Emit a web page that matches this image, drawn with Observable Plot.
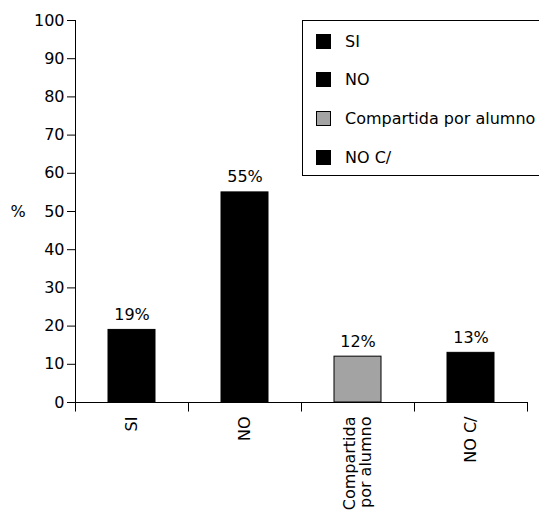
<!DOCTYPE html>
<html><head><meta charset="utf-8">
<script src="https://cdn.jsdelivr.net/npm/d3@7"></script>
<script src="https://cdn.jsdelivr.net/npm/@observablehq/plot@0.6"></script>
<style>
html,body{margin:0;padding:0;background:#fff;overflow:hidden;}
#wrap{position:relative;width:539px;height:515px;font-family:"DejaVu Sans",Arial,sans-serif;}
#legend{position:absolute;left:302px;top:20px;width:250px;height:156px;border:1px solid #000;box-sizing:border-box;background:#fff;}
.item{position:absolute;left:13px;height:18px;display:flex;align-items:center;font-size:16px;color:#000;}
.sw{width:15px;height:15px;margin-right:14px;}
</style>
</head><body>
<div id="wrap"></div>
<script>
const categories = ["SI", "NO", "Compartida por alumno", "NO C/"];
const tickLabels = ["SI", "NO", "Compartida\npor alumno", "NO C/"];
const values = [19, 55, 12, 13];
const colors = ["#000000", "#000000", "#a3a3a3", "#000000"];
const yTicks = [0, 10, 20, 30, 40, 50, 60, 70, 80, 90, 100];

const data = categories.map((c, i) => ({cat: c, value: values[i], label: values[i] + "%", color: colors[i]}));
const lastCat = [categories[categories.length - 1]];

const chart = Plot.plot({
  width: 539,
  height: 515,
  marginLeft: 75,
  marginRight: 12,
  marginTop: 20,
  marginBottom: 113,
  style: {fontFamily: "DejaVu Sans, Arial, sans-serif", fontSize: "16px", background: "#fff"},
  x: {domain: categories, paddingInner: 0.585, paddingOuter: 0.29, align: 0.5},
  y: {domain: [0, 100]},
  marks: [
    Plot.barY(data, {x: "cat", y: "value", fill: "color", stroke: "#000", strokeWidth: 1}),
    Plot.text(data, {x: "cat", y: "value", text: "label", lineAnchor: "bottom", dy: -10, fontSize: 16}),
    Plot.axisY({ticks: yTicks, tickSize: 8, tickPadding: 3, fontSize: 16, label: null}),
    Plot.frame({anchor: "left", stroke: "#000"}),
    Plot.ruleY([0], {stroke: "#000"}),
    Plot.axisX({tickSize: 0, tickPadding: 14, tickRotate: -90, label: null, fontSize: 16,
      tickFormat: d => tickLabels[categories.indexOf(d)]}),
    Plot.ruleX(categories, {x: d => d, y1: 0, y2: -2.5, dx: -56.5, stroke: "#000", clip: false}),
    Plot.ruleX(lastCat, {x: d => d, y1: 0, y2: -2.5, dx: 56.5, stroke: "#000", clip: false}),
    Plot.text(["%"], {frameAnchor: "left", text: d => d, dx: -65, fontSize: 16})
  ]
});
const wrap = document.getElementById("wrap");
wrap.appendChild(chart);

const legend = document.createElement("div");
legend.id = "legend";
categories.forEach((c, i) => {
  const it = document.createElement("div");
  it.className = "item";
  it.style.top = (11 + i * 38.8) + "px";
  const sw = document.createElement("div");
  sw.className = "sw";
  sw.style.background = colors[i];
  sw.style.border = "1px solid #000";
  sw.style.boxSizing = "border-box";
  it.appendChild(sw);
  const t = document.createElement("span");
  t.textContent = c;
  it.appendChild(t);
  legend.appendChild(it);
});
wrap.appendChild(legend);
</script>
</body></html>
